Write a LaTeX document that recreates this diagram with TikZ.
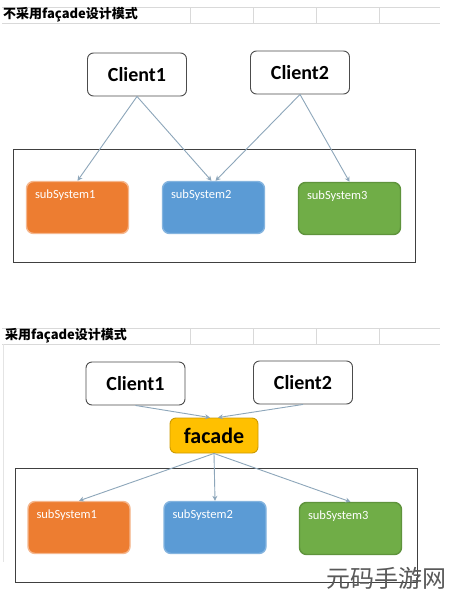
\documentclass[tikz,border=0pt]{standalone}
\usepackage{fontspec}
\setmainfont{Carlito}
\newfontfamily\cjk{Noto Sans CJK SC}
\usetikzlibrary{arrows.meta}

\definecolor{ssorange}{HTML}{ED7D31}
\definecolor{ssblue}{HTML}{5B9BD5}
\definecolor{ssgreen}{HTML}{70AD47}
\definecolor{fcyellow}{HTML}{FFC000}
\definecolor{linkcol}{HTML}{8DA6BA}
\definecolor{gridcol}{HTML}{D9D9D9}

\tikzset{
  client/.style = {draw=black!70, fill=white, rounded corners=6pt, line width=0.9pt,
                   minimum width=99pt, minimum height=43pt, inner sep=0pt,
                   font=\bfseries\fontsize{20}{22}\selectfont},
  subsys/.style = {rounded corners=7pt, line width=1.4pt, inner sep=0pt,
                   minimum width=102pt, minimum height=52pt},
  sslabel/.style = {text=white, anchor=north west, inner sep=0pt, xshift=9pt, yshift=-9pt,
                   font=\fontsize{12.5}{14}\selectfont},
  link/.style = {draw=linkcol, line width=0.9pt, -{Stealth[length=5pt,width=5pt]}},
  frame/.style = {draw=black!75, line width=0.9pt},
  header/.style = {anchor=west, inner sep=0pt, font=\cjk\bfseries\fontsize{13}{15}\selectfont}
}

\begin{document}
\begin{tikzpicture}[x=1pt, y=-1pt]
        \useasboundingbox[fill=white] (0,0) rectangle (448,600);

        % header rows
        \foreach \yt/\yb in {7/23, 328/344} {
          \draw[gridcol, line width=0.7pt] (2,\yt) -- (440,\yt);
          \draw[gridcol, line width=0.7pt] (2,\yb) -- (440,\yb);
          \foreach \xv in {190, 253, 316, 379}
            \draw[gridcol, line width=0.7pt] (\xv,\yt) -- (\xv,\yb);
        }
        \draw[gridcol!70, line width=0.6pt] (3,344) -- (3,562);
        \node[header] (h1) at (3,15) {不采用façade设计模式};
        \node[header] (h2) at (5,336) {采用façade设计模式};

        % without facade
        \draw[frame] (13,149) rectangle (415,262);
        \node[client] (c1) at (137,74.5) {Client1};
        \node[client] (c2) at (300,72.5) {Client2};
        \node[subsys, fill=ssorange, draw=ssorange!55] (s1) at (77.5,207.5)
             [label={[sslabel]north west:subSystem1}] {};
        \node[subsys, fill=ssblue, draw=ssblue!75] (s2) at (213.5,207.5)
             [label={[sslabel]north west:subSystem2}] {};
        \node[subsys, fill=ssgreen, draw=ssgreen!85!black] (s3) at (349.5,208.5)
             [label={[sslabel]north west:subSystem3}] {};
        \draw[link] (c1.south) -- (s1.north);
        \draw[link] (c1.south) -- ([xshift=-2pt]s2.north);
        \draw[link] (c2.south) -- ([xshift=2pt]s2.north);
        \draw[link] (c2.south) -- (s3.north);

        % with facade
        \draw[frame] (15,468) rectangle (417,582);
        \node[client] (d1) at (135.5,383.5) {Client1};
        \node[client] (d2) at (303,382.5) {Client2};
        \node[draw=fcyellow!80!black, fill=fcyellow, rounded corners=6pt, line width=0.9pt,
              minimum width=88pt, minimum height=35pt, inner sep=0pt,
              font=\bfseries\fontsize{22}{24}\selectfont] (fc) at (214,435.5) {facade};
        \node[subsys, fill=ssorange, draw=ssorange!55] (t1) at (79,527.5)
             [label={[sslabel]north west:subSystem1}] {};
        \node[subsys, fill=ssblue, draw=ssblue!75] (t2) at (215,527.5)
             [label={[sslabel]north west:subSystem2}] {};
        \node[subsys, fill=ssgreen, draw=ssgreen!85!black] (t3) at (350.5,528.5)
             [label={[sslabel]north west:subSystem3}] {};
        \draw[link] (d1.south) -- ([xshift=-4pt]fc.north);
        \draw[link] (d2.south) -- ([xshift=4pt]fc.north);
        \draw[link] (fc.south) -- (t1.north);
        \draw[link] (fc.south) -- (t2.north);
        \draw[link] (fc.south) -- (t3.north);

        % watermark
        \node[anchor=east, inner sep=0pt, text=black!65, font=\cjk\fontsize{24}{26}\selectfont]
             (wm) at (447,578) {元码手游网};
\end{tikzpicture}
\end{document}
